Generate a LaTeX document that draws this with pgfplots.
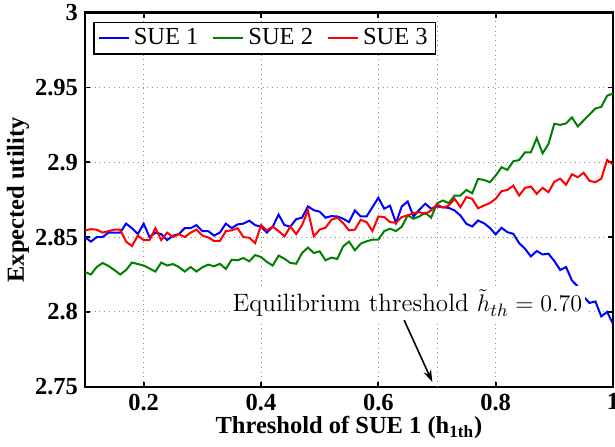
\documentclass[border=0pt]{standalone}
\usepackage{pgfplots}
\pgfplotsset{compat=1.18}
\usepackage{pgfplotstable}
\usepackage{fontspec}
\usetikzlibrary{arrows.meta}
\newfontfamily\tnr{Liberation Serif}
\newcommand\fs{\fontsize{12.25}{14.5}\selectfont}
\newcommand\fsa{\fontsize{12.55}{15}\selectfont}
\definecolor{mblue}{rgb}{0,0,1}
\definecolor{mgreen}{rgb}{0,0.5,0}
\definecolor{mred}{rgb}{1,0,0}

\pgfplotstableread{
x    blue   green  red
0.10 2.850  2.8267 2.8544
0.11 2.847  2.8250 2.8553
0.12 2.850  2.8300 2.8550
0.13 2.850  2.8327 2.8530
0.14 2.853  2.8307 2.8540
0.15 2.853  2.8280 2.8550
0.16 2.853  2.8250 2.8550
0.17 2.859  2.8280 2.8470
0.18 2.856  2.8330 2.8440
0.19 2.852  2.8320 2.8510
0.20 2.859  2.8310 2.8480
0.21 2.850  2.8290 2.8480
0.22 2.853  2.8270 2.8560
0.23 2.852  2.8330 2.8480
0.24 2.848  2.8310 2.8530
0.25 2.851  2.8320 2.8500
0.26 2.852  2.8300 2.8520
0.27 2.856  2.8270 2.8500
0.28 2.856  2.8300 2.8530
0.29 2.858  2.8270 2.8550
0.30 2.854  2.8298 2.8510
0.31 2.854  2.8316 2.8498
0.32 2.851  2.8305 2.8474
0.33 2.853  2.8322 2.8474
0.34 2.859  2.8287 2.8540
0.35 2.856  2.8349 2.8545
0.36 2.8585 2.8345 2.8560
0.37 2.859  2.8360 2.8500
0.38 2.861  2.8338 2.8496
0.39 2.858  2.8380 2.8460
0.40 2.857  2.8367 2.8580
0.41 2.853  2.8334 2.8545
0.42 2.857  2.8310 2.8570
0.43 2.865  2.8376 2.8540
0.44 2.858  2.8356 2.8505
0.45 2.857  2.8327 2.8570
0.46 2.862  2.8322 2.8520
0.47 2.863  2.8394 2.8580
0.48 2.8705 2.8430 2.8678
0.49 2.868  2.8394 2.8505
0.50 2.867  2.8405 2.8550
0.51 2.863  2.8345 2.8563
0.52 2.864  2.8363 2.8616
0.53 2.8638 2.8354 2.8630
0.54 2.8623 2.8438 2.8594
0.55 2.860  2.8470 2.8545
0.56 2.8678 2.8412 2.8550
0.57 2.8638 2.8456 2.8616
0.58 2.8638 2.8472 2.8600
0.59 2.870  2.8483 2.8540
0.60 2.8763 2.8483 2.8638
0.61 2.869  2.8540 2.8634
0.62 2.871  2.8556 2.8600
0.63 2.8594 2.8540 2.8596
0.64 2.8705 2.8570 2.8634
0.65 2.8738 2.8645 2.8645
0.66 2.8638 2.8623 2.8660
0.67 2.8683 2.8638 2.8667
0.68 2.8723 2.8663 2.8656
0.69 2.869  2.8630 2.8678
0.70 2.8705 2.8725 2.8718
0.71 2.870  2.8745 2.8697
0.72 2.8695 2.8727 2.8711
0.73 2.8678 2.8778 2.8756
0.74 2.8644 2.8778 2.8700
0.75 2.8589 2.8815 2.8767
0.76 2.8571 2.8793 2.8756
0.77 2.8611 2.8889 2.8693
0.78 2.8593 2.8882 2.8711
0.79 2.8562 2.8867 2.8727
0.80 2.8518 2.8911 2.8756
0.81 2.8562 2.8967 2.8807
0.82 2.8533 2.8949 2.8815
0.83 2.8522 2.9007 2.8844
0.84 2.8460 2.9015 2.8778
0.85 2.8422 2.9067 2.8829
0.86 2.8371 2.9067 2.8838
0.87 2.8407 2.9162 2.8789
0.88 2.8384 2.9060 2.8829
0.89 2.8389 2.9122 2.8800
0.90 2.8340 2.9258 2.8870
0.91 2.8280 2.9250 2.8890
0.92 2.8300 2.9260 2.8850
0.93 2.8210 2.9300 2.8920
0.94 2.8170 2.9240 2.8900
0.95 2.8100 2.9280 2.8930
0.96 2.8060 2.9320 2.8876
0.97 2.8070 2.9360 2.8867
0.98 2.7970 2.9370 2.8890
0.99 2.8000 2.9445 2.9016
1.00 2.7920 2.9460 2.8985
}\data

\begin{document}
\begin{tikzpicture}
\begin{axis}[
  scale only axis, width=264pt, height=187pt,
  xmin=0.1, xmax=1, ymin=2.75, ymax=3,
  xtick={0.2,0.4,0.6,0.8,1},
  ytick={2.75,2.8,2.85,2.9,2.95,3},
  grid=major, grid style={dotted, black!45, line width=0.5pt},
  extra x ticks={0.7}, extra x tick labels={},
  extra x tick style={grid=major, major tick length=0pt},
  axis line style={line width=1.2pt},
  tick style={black, line width=0.9pt}, major tick length=2.5pt,
  tick label style={font=\tnr\bfseries\fs},
  /pgf/number format/assume math mode=true,
  xlabel={Threshold of SUE 1 (h\textsubscript{1th})},
  ylabel={Expected utility},
  label style={font=\tnr\bfseries\fs},
  xlabel style={at={([yshift=-23.6pt]axis description cs:0.5,0)}, anchor=base},
  ylabel style={at={([xshift=-33.5pt]axis description cs:0,0.5)}, anchor=center},
  legend style={at={([xshift=4pt,yshift=-4.6pt]axis description cs:0,1)}, anchor=north west,
    draw=black, line width=0.75pt, font=\tnr\fs, inner xsep=2pt, inner ysep=1pt,
    /tikz/every even column/.append style={column sep=5pt}},
  legend columns=3, legend cell align=left,
  legend image code/.code={\draw[#1, line width=1pt] (0pt,0pt) -- (15pt,0pt);},
]
\addplot[mblue, line width=1pt] table[x=x,y=blue]{\data};
\addlegendentry{SUE 1}
\addplot[mgreen, line width=1pt] table[x=x,y=green]{\data};
\addlegendentry{SUE 2}
\addplot[mred, line width=1pt] table[x=x,y=red]{\data};
\addlegendentry{SUE 3}
\node[fill=white, inner xsep=1.5pt, inner ysep=2pt, anchor=base west, font=\fsa] at (axis cs:0.346,2.8) {Equilibrium threshold $\tilde{h}_{th}=0.70$};
\draw[line width=0.8pt, -{Stealth[length=6pt,width=4pt]}] (axis cs:0.644,2.7945) -- (axis cs:0.692,2.7532);
\coordinate (bl) at (rel axis cs:0,0);
\coordinate (tr) at (rel axis cs:1,1);
\end{axis}
\pgfresetboundingbox
\path[use as bounding box] ([shift={(-42.5pt,-30pt)}]bl) rectangle ([shift={(1pt,6.35pt)}]tr);
\end{tikzpicture}
\end{document}
